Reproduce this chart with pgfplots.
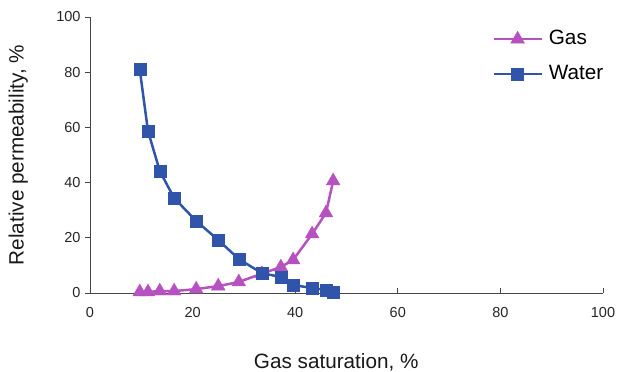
\documentclass[border=0pt]{standalone}
\usepackage{pgfplots}
\pgfplotsset{compat=1.18}
\usepackage{fontspec}
\setmainfont{Liberation Sans}
\definecolor{wblue}{RGB}{47,84,170}
\definecolor{gmag}{RGB}{182,82,192}
\definecolor{axgray}{RGB}{70,70,70}
\begin{document}
\begin{tikzpicture}[x=1pt,y=1pt]
\useasboundingbox (0,0) rectangle (624,372);
\begin{axis}[
  at={(90pt,79pt)}, anchor=south west,
  scale only axis, width=513pt, height=276pt,
  xmin=0, xmax=100, ymin=0, ymax=100,
  xtick={0,20,...,100}, ytick={0,20,...,100},
  axis x line*=bottom, axis y line*=left,
  axis line style={axgray, line width=0.9pt},
  x tick style={axgray, line width=0.7pt}, y tick style={axgray, line width=0.7pt},
  xtick align=inside, ytick align=outside,
  major tick length=5pt,
  tick label style={font=\fontsize{14.5}{17}\selectfont, text=black!85},
  /pgf/number format/assume math mode=true,
  xticklabel style={yshift=-11pt},
  yticklabel style={xshift=-1pt},
  xlabel={Gas saturation, \%}, ylabel={Relative permeability, \%},
  label style={font=\fontsize{20.7}{24}\selectfont, text=black!90},
  xlabel style={at={(axis description cs:0.48,-0.25)}, anchor=center},
  ylabel style={at={(axis description cs:-0.14,0.5)}, anchor=center},
  legend style={draw=none, fill=none, inner sep=0pt, at={(axis description cs:0.784,0.955)}, anchor=north west,
    font=\fontsize{20.7}{24}\selectfont, row sep=16pt,
    nodes={inner sep=0pt, text height=15pt, text depth=4pt}},
  legend cell align=left,
  legend image code/.code={
    \draw[#1] (0pt,0pt) -- (48pt,0pt);
    \draw[#1,mark repeat=2,mark phase=2] plot coordinates {(0pt,0pt) (24pt,0pt) (48pt,0pt)};
    \path (54pt,0pt);
  },
]
\addplot[gmag, line width=2.5pt, mark=triangle*, mark size=8pt, mark options={solid, fill=gmag, draw=gmag, line width=0.3pt}] coordinates {
(9.7,0.4) (11.3,0.4) (13.6,0.7) (16.4,0.7) (20.7,1.4) (25.0,2.5) (29.0,4.0) (33.5,7.0) (37.2,9.4) (39.6,12.0) (43.3,21.4) (46.0,29.0) (47.4,40.6)
};
\addlegendentry{Gas}
\addplot[wblue, line width=2.5pt, mark=square*, mark size=6pt, mark options={solid, fill=wblue, draw=wblue, line width=0.3pt}] coordinates {
(9.7,81.0) (11.3,58.7) (13.6,44.2) (16.4,34.4) (20.7,26.1) (25.0,19.2) (29.0,12.3) (33.5,7.2) (37.2,5.8) (39.6,2.9) (43.3,1.8) (46.0,1.1) (47.4,0.4)
};
\addlegendentry{Water}
\end{axis}
\end{tikzpicture}
\end{document}
